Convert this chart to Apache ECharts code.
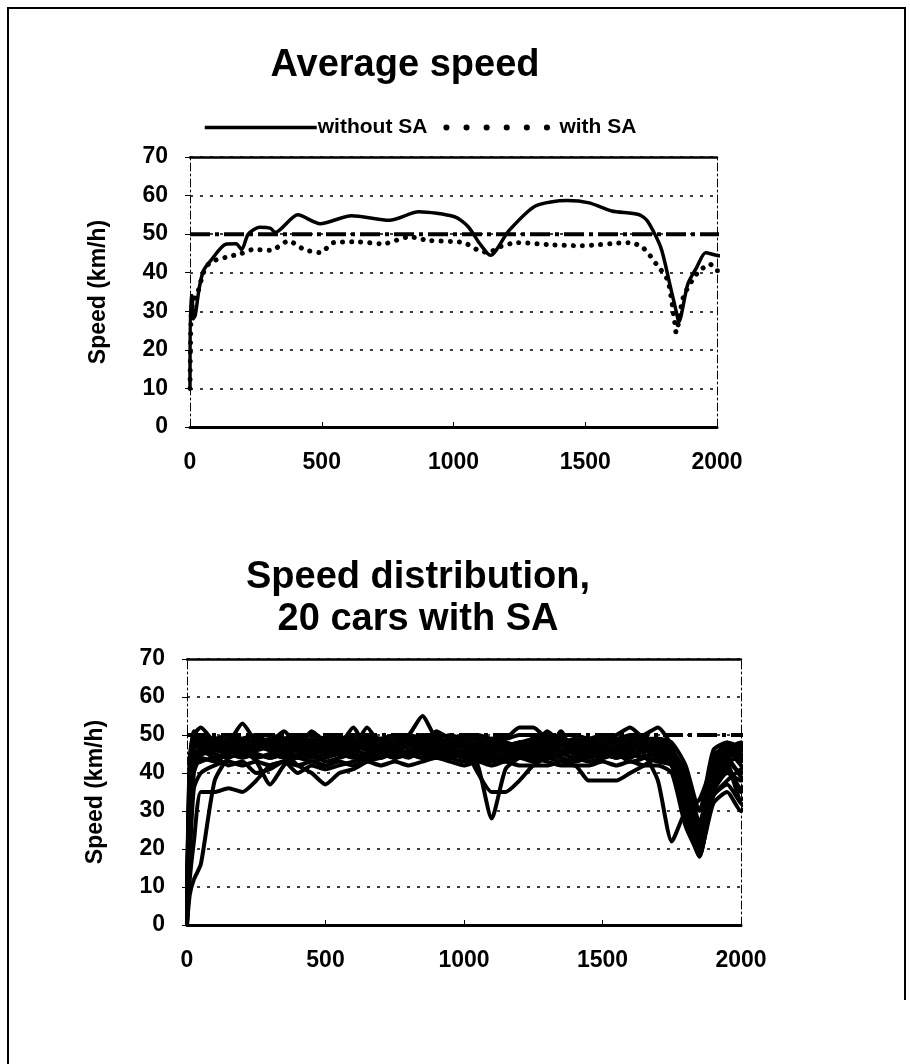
<!DOCTYPE html>
<html>
<head>
<meta charset="utf-8">
<script src="https://cdn.jsdelivr.net/npm/echarts@6/dist/echarts.min.js"></script>
<style>
  html, body { margin: 0; padding: 0; background: #fff; }
  #chart { width: 910px; height: 1064px; }
</style>
</head>
<body>
<div id="chart"></div>
<script>
// --- data ---
var yTicks = [0, 10, 20, 30, 40, 50, 60, 70];
var xTicks = [0, 500, 1000, 1500, 2000];
var speedLimit = 50;
var limitX = [0, 2045];

// average speed, without SA (solid)
var withoutX = [0, 2, 8, 12, 20, 35, 51, 77, 136, 175, 196, 221, 264, 306, 323, 409, 494, 613, 757, 868,
  1004, 1055, 1100, 1140, 1209, 1311, 1430, 1515, 1600, 1702, 1736, 1787, 1821, 1847, 1855, 1889, 1923, 1957, 2008, 2043];
var withoutSA = [10, 34, 34, 28, 29, 36, 40.5, 43, 47.4, 47.5, 46, 50, 51.8, 51.5, 50.4, 55, 52.7, 54.8, 53.6, 55.8,
  54.5, 52, 47.5, 44.5, 50.8, 57.3, 58.7, 58.1, 56, 55.1, 53.4, 46.5, 37, 29.4, 27.2, 37, 41.4, 45.2, 44.4, 45.2];

// average speed, with SA (dotted)
var withX = [0, 5, 15, 30, 51, 77, 136, 196, 238, 306, 374, 434, 494, 545, 630, 732, 834, 902, 1038, 1089,
  1132, 1174, 1243, 1379, 1481, 1668, 1719, 1770, 1813, 1838, 1845, 1872, 1923, 1974, 2000, 2034];
var withSA = [10, 30, 33, 35, 40, 42.7, 44, 45, 46, 45.8, 48.2, 46, 45.2, 47.8, 48, 47.5, 49.3, 48.4, 47.8, 46,
  45.2, 46.7, 47.8, 47.2, 47, 47.8, 46.5, 42.2, 38, 28, 24.5, 33.6, 39.7, 42.2, 40.5, 40.7];

// 20 cars with SA
var carX = [0, 10, 25, 50, 100, 150, 200, 250, 300, 350, 400, 450, 500, 550, 600, 650, 700, 750, 800, 850,
  900, 950, 1000, 1050, 1100, 1150, 1200, 1250, 1300, 1350, 1400, 1450, 1500, 1550, 1600, 1650, 1700, 1750, 1800, 1850,
  1900, 1950, 2000, 2040];
var carSpeeds = [
  [3, 38, 50, 52, 48, 47, 49, 48, 47, 48, 49, 47, 48, 49, 47, 48, 49, 48, 50, 49, 48, 47, 48, 47, 46, 47, 48, 48, 49, 48, 47, 48, 48, 49, 48, 47, 48, 46, 38, 24, 38, 45, 46, 45],
  [8, 42, 51, 49, 47, 48, 53, 48, 46, 47, 46, 48, 47, 46, 48, 47, 46, 47, 48, 47, 46, 48, 47, 46, 47, 46, 47, 46, 47, 48, 46, 47, 46, 47, 46, 48, 47, 44, 32, 20, 40, 43, 44, 42],
  [0, 12, 22, 35, 35, 36, 35, 38, 42, 43, 44, 43, 44, 45, 44, 45, 44, 46, 45, 44, 45, 44, 43, 44, 45, 44, 45, 44, 45, 46, 45, 44, 45, 44, 45, 44, 45, 42, 30, 18, 35, 40, 38, 40],
  [2, 25, 44, 46, 45, 44, 46, 43, 37, 42, 45, 46, 45, 46, 47, 46, 45, 46, 47, 46, 45, 46, 45, 46, 44, 45, 46, 45, 44, 45, 46, 45, 46, 45, 44, 46, 45, 43, 28, 19, 34, 38, 41, 43],
  [1, 20, 40, 44, 43, 45, 44, 45, 44, 45, 42, 40, 37, 40, 41, 43, 44, 45, 44, 46, 44, 45, 44, 43, 44, 43, 44, 43, 44, 43, 44, 43, 44, 45, 43, 44, 46, 44, 33, 21, 36, 44, 39, 36],
  [4, 30, 46, 45, 46, 47, 46, 47, 46, 45, 47, 46, 47, 45, 46, 45, 47, 46, 45, 47, 46, 45, 46, 40, 35, 35, 38, 42, 44, 45, 46, 45, 44, 46, 45, 46, 45, 43, 30, 22, 42, 47, 44, 46],
  [6, 36, 48, 47, 46, 48, 47, 46, 47, 48, 46, 47, 48, 47, 48, 47, 46, 47, 48, 47, 47, 46, 47, 42, 28, 41, 44, 45, 46, 47, 46, 47, 46, 47, 48, 46, 47, 45, 35, 25, 45, 46, 42, 40],
  [2, 28, 45, 46, 44, 45, 46, 44, 45, 46, 44, 45, 43, 44, 45, 44, 45, 44, 46, 45, 44, 45, 44, 45, 43, 44, 45, 44, 43, 42, 42, 38, 38, 38, 40, 42, 44, 42, 36, 20, 38, 42, 35, 38],
  [5, 33, 47, 48, 46, 47, 48, 47, 48, 49, 47, 48, 47, 48, 49, 48, 47, 48, 49, 48, 47, 48, 47, 48, 47, 48, 47, 48, 47, 48, 47, 48, 47, 46, 47, 45, 38, 22, 30, 33, 42, 44, 46, 47],
  [3, 34, 47, 48, 47, 46, 47, 48, 47, 46, 48, 47, 46, 47, 46, 48, 47, 49, 50, 55, 49, 48, 47, 46, 47, 46, 48, 47, 46, 47, 48, 47, 46, 47, 48, 47, 46, 44, 28, 18, 36, 42, 33, 35],
  [7, 40, 49, 48, 49, 48, 49, 50, 48, 49, 50, 48, 49, 48, 50, 49, 48, 49, 48, 50, 49, 48, 50, 49, 48, 49, 52, 52, 49, 48, 49, 48, 49, 48, 49, 48, 49, 47, 36, 24, 43, 48, 45, 42],
  [4, 35, 48, 49, 48, 49, 48, 47, 49, 48, 47, 49, 48, 49, 47, 48, 49, 48, 47, 49, 48, 49, 48, 47, 49, 48, 47, 49, 48, 49, 48, 49, 48, 50, 52, 49, 48, 46, 33, 22, 40, 45, 47, 44],
  [3, 30, 46, 49, 47, 48, 47, 49, 47, 48, 49, 47, 48, 49, 48, 49, 48, 47, 48, 47, 51, 49, 48, 49, 48, 47, 48, 49, 50, 49, 48, 47, 49, 48, 49, 50, 52, 47, 34, 23, 41, 46, 43, 45],
  [1, 18, 36, 40, 42, 43, 42, 43, 42, 43, 42, 43, 42, 43, 42, 43, 42, 43, 42, 43, 44, 43, 42, 43, 42, 43, 42, 42, 42, 43, 42, 42, 43, 42, 43, 42, 42, 40, 26, 19, 32, 35, 30, 33],
  [5, 38, 48, 46, 47, 46, 48, 47, 48, 51, 47, 46, 47, 48, 47, 52, 47, 46, 47, 48, 47, 46, 48, 47, 46, 47, 46, 47, 48, 47, 46, 48, 47, 46, 47, 48, 47, 45, 31, 20, 39, 43, 40, 41],
  [0, 8, 12, 16, 38, 44, 45, 44, 45, 44, 45, 44, 45, 46, 45, 44, 45, 44, 45, 44, 45, 46, 44, 45, 44, 45, 44, 45, 44, 45, 44, 45, 44, 45, 46, 44, 45, 43, 29, 19, 37, 41, 36, 39],
  [2, 26, 43, 45, 46, 45, 46, 45, 44, 45, 46, 45, 46, 47, 52, 46, 45, 46, 45, 46, 45, 46, 45, 46, 45, 46, 45, 46, 45, 51, 45, 46, 45, 46, 45, 46, 44, 45, 37, 26, 44, 47, 45, 43],
  [6, 37, 49, 48, 47, 48, 47, 48, 49, 48, 47, 51, 48, 47, 48, 47, 48, 47, 48, 47, 48, 47, 48, 47, 48, 47, 48, 47, 51, 48, 47, 48, 47, 48, 47, 48, 47, 46, 40, 27, 42, 46, 48, 46],
  [8, 44, 50, 49, 49, 50, 49, 50, 50, 49, 49, 50, 49, 49, 50, 50, 49, 50, 49, 50, 49, 50, 49, 50, 49, 49, 50, 50, 49, 50, 50, 49, 50, 49, 50, 49, 49, 48, 42, 30, 46, 48, 47, 48],
  [1, 22, 42, 43, 44, 42, 43, 40, 41, 43, 40, 42, 41, 42, 43, 44, 45, 44, 45, 46, 45, 44, 45, 44, 43, 44, 45, 44, 45, 44, 43, 44, 45, 44, 45, 44, 43, 42, 30, 21, 34, 37, 32, 30]
];

// --- chart ---
var FONT = 'Liberation Sans';
var INK = '#000';
var chart = echarts.init(document.getElementById('chart'));

function pairs(xs, ys) {
  return xs.map(function (x, i) { return [x, ys[i]]; });
}

function bottomAxis(grid) {
  return {
    type: 'value', gridIndex: grid, min: xTicks[0], max: xTicks[xTicks.length - 1], interval: 500,
    axisLine: { onZero: false, lineStyle: { color: INK, width: 3 } },
    axisTick: { show: true, inside: true, length: 5, lineStyle: { color: INK, width: 1 } },
    axisLabel: {
      color: INK, fontFamily: FONT, fontWeight: 'bold', fontSize: 23, margin: 24,
      formatter: function (v) { return String(v); }
    },
    splitLine: { show: false }
  };
}
function topAxis(grid) {
  return {
    type: 'value', gridIndex: grid, position: 'top', min: 0, max: 2000,
    axisLine: { onZero: false, lineStyle: { color: INK, width: 2.5 } },
    axisTick: { show: false }, axisLabel: { show: false }, splitLine: { show: false }
  };
}
function leftAxis(grid) {
  return {
    type: 'value', gridIndex: grid, min: yTicks[0], max: yTicks[yTicks.length - 1], interval: 10,
    name: 'Speed (km/h)', nameLocation: 'middle', nameGap: 80,
    nameTextStyle: { color: INK, fontFamily: FONT, fontWeight: 'bold', fontSize: 23 },
    axisLine: { onZero: false, lineStyle: { color: INK, width: 1, type: [8, 3, 2, 3] } },
    axisTick: { show: true, length: 5, lineStyle: { color: INK } },
    axisLabel: { color: INK, fontFamily: FONT, fontWeight: 'bold', fontSize: 23, margin: 22 },
    splitLine: { show: true, lineStyle: { color: INK, width: 1.5, type: [3, 7] } }
  };
}
function rightAxis(grid) {
  return {
    type: 'value', gridIndex: grid, position: 'right', min: 0, max: 70,
    axisLine: { show: true, onZero: false, lineStyle: { color: INK, width: 1, type: [8, 3, 2, 3] } },
    axisTick: { show: false }, axisLabel: { show: false }, splitLine: { show: false }
  };
}
function limitSeries(xi, yi) {
  return {
    type: 'line', xAxisIndex: xi, yAxisIndex: yi, symbol: 'none', silent: true, clip: false,
    data: limitX.map(function (x) { return [x, speedLimit]; }),
    lineStyle: { color: INK, width: 4, type: [20, 5, 4, 5] }, z: 3
  };
}

var series = [
  limitSeries(0, 0),
  {
    name: 'without SA', type: 'line', xAxisIndex: 0, yAxisIndex: 0, symbol: 'none', clip: false,
    smooth: 0.25, data: pairs(withoutX, withoutSA), color: INK,
    lineStyle: { color: INK, width: 3.5 }, z: 5
  },
  {
    name: 'with SA', type: 'line', xAxisIndex: 0, yAxisIndex: 0, symbol: 'none', clip: false,
    smooth: 0.25, data: pairs(withX, withSA), color: INK,
    lineStyle: { color: INK, width: 5, type: [0.1, 9], cap: 'round' }, z: 4
  },
  limitSeries(2, 2)
];
carSpeeds.forEach(function (row, i) {
  series.push({
    name: 'car ' + (i + 1), type: 'line', xAxisIndex: 2, yAxisIndex: 2, symbol: 'none', clip: false,
    smooth: 0.2, data: pairs(carX, row), color: INK,
    lineStyle: { color: INK, width: 4 }, z: 4
  });
});

var option = {
  animation: false,
  backgroundColor: '#fff',
  grid: [
    { left: 190, top: 157, width: 527, height: 270 },
    { left: 187, top: 659, width: 554, height: 266 }
  ],
  xAxis: [bottomAxis(0), topAxis(0), bottomAxis(1), topAxis(1)],
  yAxis: [leftAxis(0), rightAxis(0), leftAxis(1), rightAxis(1)],
  legend: {
    left: 198, top: 112, itemGap: 16, itemWidth: 112, itemHeight: 14,
    itemStyle: { opacity: 0 },
    textStyle: { color: INK, fontFamily: FONT, fontWeight: 'bold', fontSize: 21, padding: [0, 0, 0, -4] },
    data: [
      { name: 'without SA', lineStyle: { color: INK, width: 3.5, type: 'solid' } },
      { name: 'with SA', lineStyle: { color: INK, type: [0.1, 20], width: 6, cap: 'round' } }
    ]
  },
  graphic: [
    {
      type: 'polyline', silent: true,
      shape: { points: [[8, 1064], [8, 8], [905, 8], [905, 1000]] },
      style: { stroke: INK, lineWidth: 2, fill: null }
    },
    {
      type: 'text', x: 405, y: 66, silent: true,
      style: { text: 'Average speed', font: 'bold 38px "Liberation Sans"', fill: INK, align: 'center', verticalAlign: 'middle' }
    },
    {
      type: 'text', x: 418, y: 599, silent: true,
      style: { text: 'Speed distribution,\n20 cars with SA', font: 'bold 38px "Liberation Sans"', lineHeight: 42, fill: INK, align: 'center', verticalAlign: 'middle' }
    }
  ],
  series: series
};

chart.setOption(option);
</script>
</body>
</html>
